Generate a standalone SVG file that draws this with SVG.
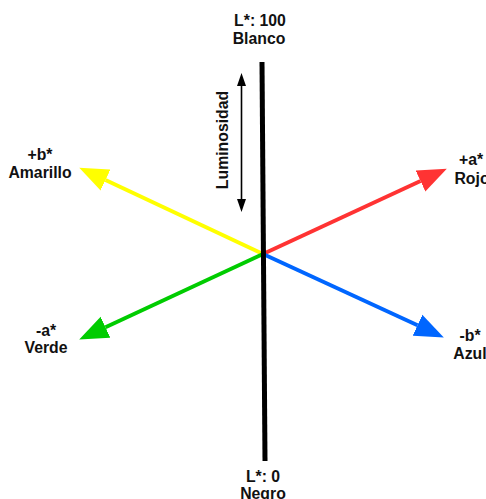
<svg xmlns="http://www.w3.org/2000/svg" width="486" height="499" viewBox="0 0 486 499">
  <style>
    .lbl { font-family: "Liberation Sans", Arial, sans-serif; font-size: 15.8px; font-weight: bold; fill: #111; text-anchor: middle; }
    .axis { stroke-width: 4; fill: none; }
  </style>
  <defs>
    <marker id="headY" markerUnits="userSpaceOnUse" viewBox="0 -12 29 24" refX="0" refY="0" markerWidth="29" markerHeight="24" orient="auto">
      <path d="M0,-11.5 L29,0 L0,11.5 z" fill="#ffff00"/>
    </marker>
    <marker id="headR" markerUnits="userSpaceOnUse" viewBox="0 -12 29 24" refX="0" refY="0" markerWidth="29" markerHeight="24" orient="auto">
      <path d="M0,-11.5 L29,0 L0,11.5 z" fill="#ff3333"/>
    </marker>
    <marker id="headG" markerUnits="userSpaceOnUse" viewBox="0 -12 29 24" refX="0" refY="0" markerWidth="29" markerHeight="24" orient="auto">
      <path d="M0,-11.5 L29,0 L0,11.5 z" fill="#00cc00"/>
    </marker>
    <marker id="headB" markerUnits="userSpaceOnUse" viewBox="0 -12 29 24" refX="0" refY="0" markerWidth="29" markerHeight="24" orient="auto">
      <path d="M0,-11.5 L29,0 L0,11.5 z" fill="#0066ff"/>
    </marker>
    <marker id="headK" markerUnits="userSpaceOnUse" viewBox="0 -5 13 10" refX="0" refY="0" markerWidth="13" markerHeight="10" orient="auto-start-reverse">
      <path d="M0,-4.5 L13,0 L0,4.5 z" fill="#000"/>
    </marker>
  </defs>

  <g id="connectors">
    <!-- chroma axes from the neutral centre -->
    <line id="axis-yellow" class="axis" x1="263" y1="254" x2="105.5" y2="180" stroke="#ffff00" marker-end="url(#headY)"/>
    <line id="axis-red" class="axis" x1="263" y1="254" x2="420.5" y2="181" stroke="#ff3333" marker-end="url(#headR)"/>
    <line id="axis-green" class="axis" x1="263" y1="254" x2="105.5" y2="327.2" stroke="#00cc00" marker-end="url(#headG)"/>
    <line id="axis-blue" class="axis" x1="263" y1="254" x2="417.5" y2="325.3" stroke="#0066ff" marker-end="url(#headB)"/>
    <!-- lightness axis -->
    <line id="axis-L" x1="262" y1="62" x2="265" y2="461" stroke="#000" stroke-width="5"/>
    <!-- lightness range indicator -->
    <line id="lum-arrow" x1="241.5" y1="86" x2="241.5" y2="199" stroke="#000" stroke-width="1.6" marker-start="url(#headK)" marker-end="url(#headK)"/>
  </g>

  <g id="node-blanco">
    <text class="lbl" x="260" y="26">L*: 100</text>
    <text class="lbl" x="259" y="44">Blanco</text>
  </g>
  <g id="node-negro">
    <text class="lbl" x="263" y="482">L*: 0</text>
    <text class="lbl" x="263" y="499">Negro</text>
  </g>
  <g id="node-amarillo">
    <text class="lbl" x="40" y="160">+b*</text>
    <text class="lbl" x="40" y="178">Amarillo</text>
  </g>
  <g id="node-rojo">
    <text class="lbl" x="471" y="165">+a*</text>
    <text class="lbl" x="472" y="184">Rojo</text>
  </g>
  <g id="node-verde">
    <text class="lbl" x="46" y="336">-a*</text>
    <text class="lbl" x="46" y="353">Verde</text>
  </g>
  <g id="node-azul">
    <text class="lbl" x="470" y="341">-b*</text>
    <text class="lbl" x="470" y="359">Azul</text>
  </g>
  <g id="node-luminosidad">
    <text class="lbl" transform="translate(227.5,140) rotate(-90)" x="0" y="0">Luminosidad</text>
  </g>
</svg>
